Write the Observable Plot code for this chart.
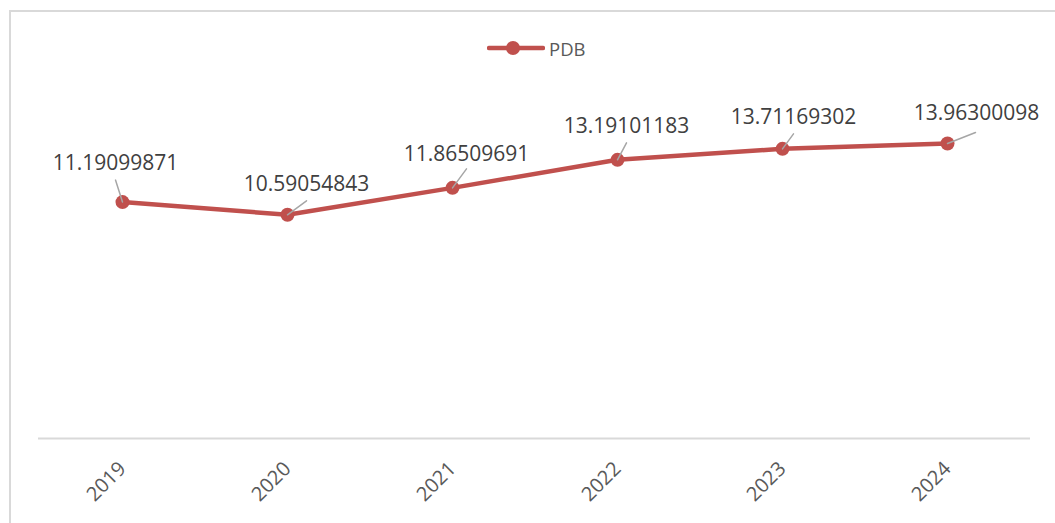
<!DOCTYPE html>
<html><head><meta charset="utf-8">
<script src="https://cdn.jsdelivr.net/npm/d3@7"></script>
<script src="https://cdn.jsdelivr.net/npm/@observablehq/plot@0.6"></script>
<style>
body{margin:0;background:#fff;font-family:"Open Sans",sans-serif;}
#wrap{position:relative;width:1055px;height:523px;overflow:hidden;background:#fff;}
#frame{position:absolute;left:9px;top:10px;width:1100px;height:600px;border-top:2px solid #d9d9d9;border-left:2px solid #d9d9d9;}
#chart{position:absolute;left:0;top:0;}
#legend{position:absolute;left:487px;top:36px;height:24px;display:flex;align-items:center;font-size:18.5px;color:#595959;}
#legend svg{margin-right:4px;}
</style></head><body>
<div id="wrap"><div id="frame"></div><div id="chart"></div><div id="legend"></div></div>
<script>
// ---- data ----
const years = ["2019", "2020", "2021", "2022", "2023", "2024"];
const pdb = [11.19099871, 10.59054843, 11.86509691, 13.19101183, 13.71169302, 13.96300098];
const valueLabels = ["11.19099871", "10.59054843", "11.86509691", "13.19101183", "13.71169302", "13.96300098"];
const seriesName = "PDB";
const yDomain = [0, 16];

// ---- label placement (pixel offsets of moved data labels and their leader lines) ----
const labelOffsets = [[-7, -39], [19, -31], [14, -34], [9, -34], [11, -32], [29, -30]];
const leaderOffsets = [[-7, -22], [19, -14], [14, -19], [9, -17], [11, -15], [28, -11]];

const red = "#C0504D";
const rows = years.map((y, i) => ({
  year: y, value: pdb[i], label: valueLabels[i],
  llen: Math.hypot(leaderOffsets[i][0], leaderOffsets[i][1]),
  lrot: Math.atan2(leaderOffsets[i][0], -leaderOffsets[i][1]) * 180 / Math.PI
}));

const leaderShape = {draw(context, l) { context.moveTo(0, 0); context.lineTo(0, -l); }};

const chart = Plot.plot({
  width: 1055,
  height: 523,
  marginLeft: 38,
  marginRight: 25,
  marginTop: 100,
  marginBottom: 85,
  style: {background: "transparent", fontFamily: "'Open Sans', sans-serif"},
  x: {type: "point", domain: years, padding: 0.5, axis: null},
  y: {domain: yDomain, axis: null},
  length: {type: "identity"},
  marks: [
    Plot.ruleY([0], {stroke: "#d9d9d9", strokeWidth: 2}),
    Plot.text(years, {x: d => d, frameAnchor: "bottom", dy: 27, rotate: -45, textAnchor: "end", lineAnchor: "middle", fontSize: 20, fill: "#595959"}),
    Plot.line(rows, {x: "year", y: "value", stroke: red, strokeWidth: 4.5}),
    Plot.dot(rows, {x: "year", y: "value", r: 7, fill: red, stroke: "none"}),
    Plot.vector(rows, {x: "year", y: "value", length: "llen", rotate: "lrot", anchor: "start", shape: leaderShape, stroke: "#a6a6a6", strokeWidth: 1.5}),
    ...rows.map((r, i) => Plot.text([r], {x: "year", y: "value", text: "label", dx: labelOffsets[i][0], dy: labelOffsets[i][1], fontSize: 21, fill: "#404040", textAnchor: "middle", lineAnchor: "middle"}))
  ]
});
document.getElementById("chart").appendChild(chart);

// legend
const lg = document.getElementById("legend");
lg.innerHTML = `<svg width="58" height="20"><line x1="2" y1="10" x2="56" y2="10" stroke="${red}" stroke-width="4.5" stroke-linecap="round"/><circle cx="26" cy="10" r="7" fill="${red}"/></svg><span>${seriesName}</span>`;
</script>
</body></html>
